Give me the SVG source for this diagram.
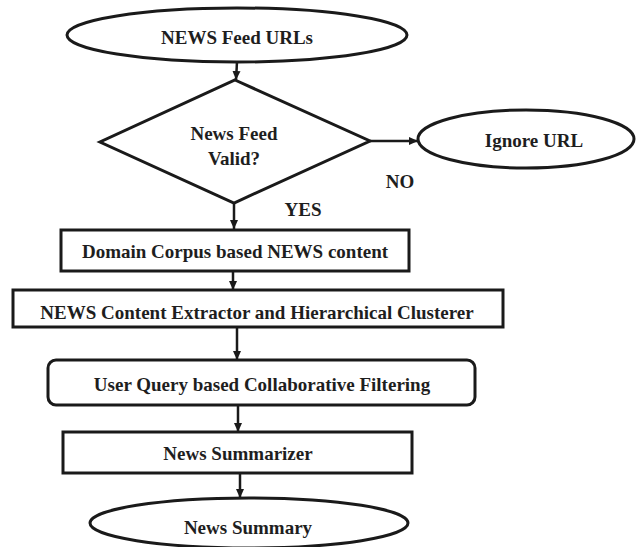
<svg xmlns="http://www.w3.org/2000/svg" width="637" height="547" viewBox="0 0 637 547">
<style>
.shape{fill:#fff;stroke:#1a1a1a;stroke-width:3}
.lbl{font-family:"Liberation Serif","Times New Roman",serif;font-weight:bold;font-size:19px;fill:#1e1e1e;text-anchor:middle;dominant-baseline:central}
.edge{stroke:#1a1a1a;stroke-width:2.5;fill:none}
</style>
<defs>
<marker id="arr" markerUnits="userSpaceOnUse" markerWidth="10" markerHeight="10" refX="9" refY="5" orient="auto">
<path d="M0,1 L9,5 L0,9 Z" fill="#1a1a1a"/>
</marker>
</defs>
<rect width="637" height="547" fill="#fff"/>
<g id="connectors">
<line class="edge" x1="237" y1="62" x2="236" y2="80" marker-end="url(#arr)"/>
<line class="edge" x1="370" y1="141" x2="418" y2="141" marker-end="url(#arr)"/>
<line class="edge" x1="234" y1="203" x2="234" y2="229" marker-end="url(#arr)"/>
<line class="edge" x1="233" y1="271" x2="233" y2="290" marker-end="url(#arr)"/>
<line class="edge" x1="237" y1="327" x2="237" y2="360" marker-end="url(#arr)"/>
<line class="edge" x1="238" y1="405" x2="238" y2="432" marker-end="url(#arr)"/>
<line class="edge" x1="240" y1="473" x2="240" y2="498" marker-end="url(#arr)"/>
<text class="lbl" x="400" y="181">NO</text>
<text class="lbl" x="303" y="209">YES</text>
</g>
<g id="feed-urls">
<ellipse class="shape" cx="237" cy="35" rx="170" ry="27"/>
<text class="lbl" x="237" y="37">NEWS Feed URLs</text>
</g>
<g id="valid">
<polygon class="shape" points="235,80 370,141 234,203 100,142"/>
<text class="lbl" x="234" y="133">News Feed</text>
<text class="lbl" x="234" y="158">Valid?</text>
</g>
<g id="ignore">
<ellipse class="shape" cx="526" cy="139" rx="108" ry="29"/>
<text class="lbl" x="534" y="140">Ignore URL</text>
</g>
<g id="domain">
<rect class="shape" x="61" y="230" width="348" height="41"/>
<text class="lbl" x="235" y="251">Domain Corpus based NEWS content</text>
</g>
<g id="extractor">
<rect class="shape" x="13" y="290" width="490" height="37"/>
<text class="lbl" x="257" y="312">NEWS Content Extractor and Hierarchical Clusterer</text>
</g>
<g id="filtering">
<rect class="shape" x="48" y="360" width="427" height="45" rx="8" ry="8"/>
<text class="lbl" x="262" y="384">User Query based Collaborative Filtering</text>
</g>
<g id="summarizer">
<rect class="shape" x="63" y="432" width="349" height="41"/>
<text class="lbl" x="238" y="453">News Summarizer</text>
</g>
<g id="summary">
<ellipse class="shape" cx="249" cy="523" rx="159" ry="25"/>
<text class="lbl" x="248" y="527">News Summary</text>
</g>
</svg>
